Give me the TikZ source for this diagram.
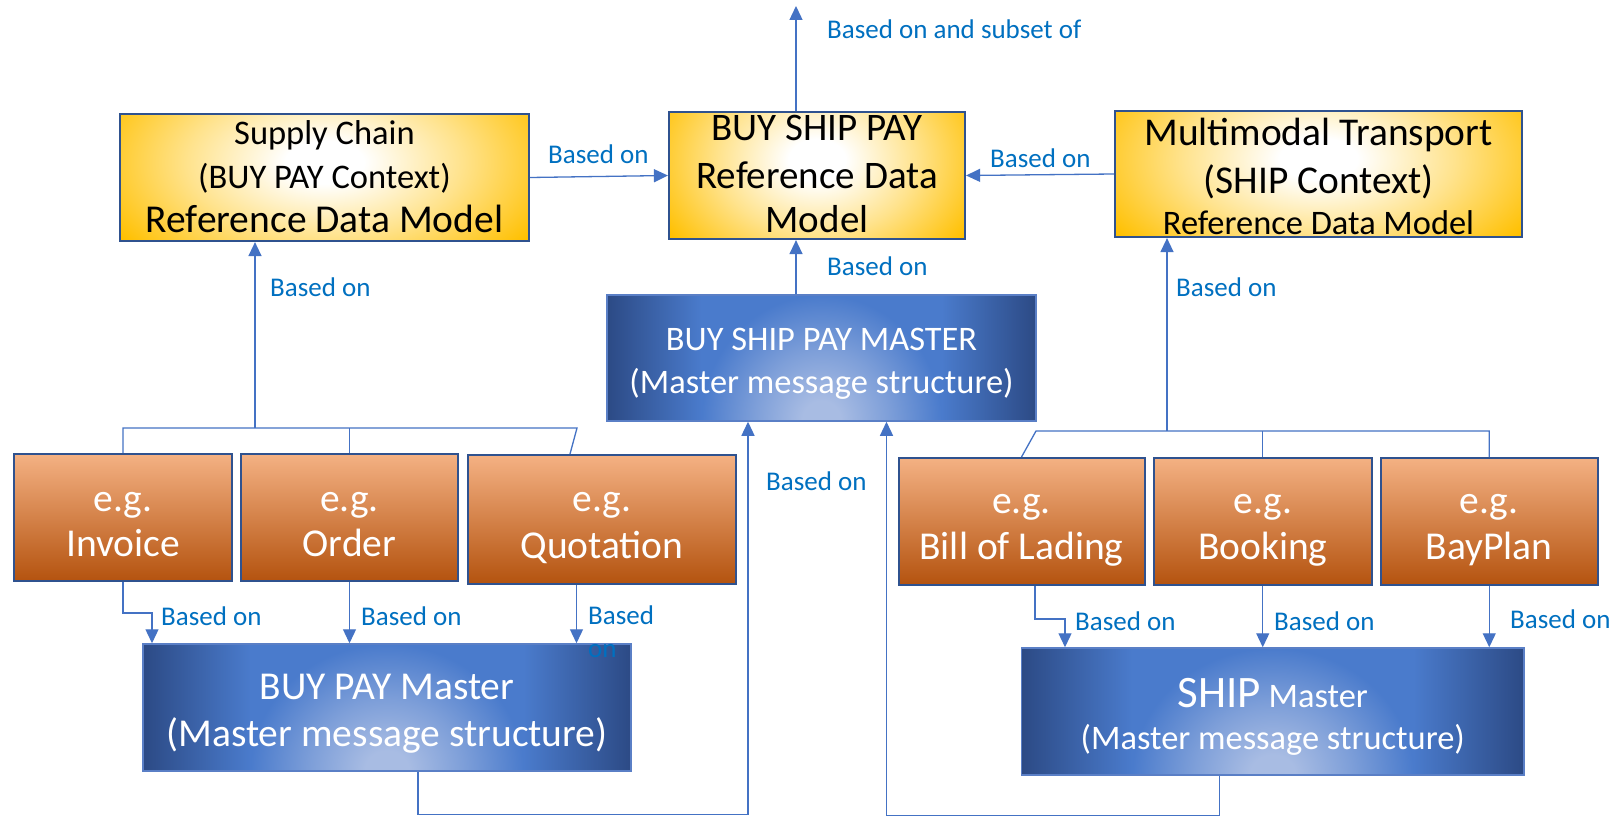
\documentclass[tikz,border=0pt]{standalone}
\usepackage{fontspec}
\setmainfont{Carlito}
\usetikzlibrary{arrows.meta}
\definecolor{goldc}{HTML}{FFC000}
\definecolor{bordc}{HTML}{2F528F}
\definecolor{bborder}{HTML}{5A7FC6}
\definecolor{linec}{HTML}{4472C4}
\definecolor{labc}{HTML}{0070C0}
\definecolor{otop}{HTML}{F4B183}
\definecolor{omid}{HTML}{ED7D31}
\definecolor{obot}{HTML}{B4530F}
\definecolor{bdark}{HTML}{2C4A85}
\definecolor{bmid}{HTML}{4A7BCC}
\definecolor{bspot}{HTML}{A8BCE3}
\colorlet{bspotmid}{bspot!55!bmid}
\colorlet{goldlight}{goldc!45!white}
\pgfdeclareradialshading{goldspotsh}{\pgfpointorigin}{color(0bp)=(white); color(4bp)=(white); color(14bp)=(goldlight); color(25bp)=(goldc); color(50bp)=(goldc)}
\pgfdeclareradialshading{bluespotsh}{\pgfpointorigin}{color(0bp)=(bspot); color(4bp)=(bspot); color(14bp)=(bspotmid); color(25bp)=(bmid); color(50bp)=(bmid)}
\pgfdeclarehorizontalshading{bluebgsh}{100bp}{color(0bp)=(bdark); color(25bp)=(bdark); color(36bp)=(bmid); color(64bp)=(bmid); color(75bp)=(bdark); color(100bp)=(bdark)}
\newcommand\fsz[1]{\fontsize{#1}{#1}\selectfont}
% #1 raise of first baseline above centre, #2 line spacing, #3 lines
\newcommand\boxtext[3]{\raisebox{#1}[0pt][0pt]{\fontsize{\fsize}{#2}\selectfont\begin{tabular}[t]{@{}c@{}}#3\end{tabular}}}
\def\fsize{10}
% backgrounds: centre x, centre y, width, height
\newcommand\goldbg[4]{%
  \begin{scope}
    \clip ({#1-#3/2},{#2-#4/2}) rectangle ({#1+#3/2},{#2+#4/2});
    \fill[goldc] ({#1-#3/2},{#2-#4/2}) rectangle ({#1+#3/2},{#2+#4/2});
    \shade[shading=goldspotsh] ({#1},{#2-0.12*#4}) ellipse [x radius={0.6*#3}, y radius={1.05*#4}];
  \end{scope}}
\newcommand\bluebg[4]{%
  \begin{scope}
    \clip ({#1-#3/2},{#2-#4/2}) rectangle ({#1+#3/2},{#2+#4/2});
    \shade[shading=bluebgsh] ({#1-#3/2},{#2-#4/2}) rectangle ({#1+#3/2},{#2+#4/2});
    \shade[shading=bluespotsh] ({#1},{#2+#4/2}) ellipse [x radius={0.28*#3}, y radius={1.0*#4}];
  \end{scope}}
\tikzset{
  box/.style={rectangle, inner sep=0pt},
  goldbox/.style={box, draw=bordc, line width=2.2pt, text=black},
  bluebox/.style={box, draw=bborder, line width=1.5pt, text=white},
  orbox/.style={box, draw=bordc, line width=2pt, top color=otop, middle color=omid, bottom color=obot, text=white,
    minimum height=127pt},
  lab/.style={text=labc, font=\fsz{27}, inner sep=0pt, anchor=west},
  conn/.style={draw=linec, line width=1.3pt},
  arr/.style={conn, -{Triangle[width=13pt,length=14pt]}}
}
\begin{document}
\begin{tikzpicture}[x=1pt,y=-1pt]
\useasboundingbox[fill=white] (0,0) rectangle (1617,818);
% box fills
\goldbg{324.5}{177.5}{409}{127}
\goldbg{817}{175.5}{296}{127}
\goldbg{1318.5}{174}{407}{126}
\bluebg{821.5}{358}{429}{126}
\bluebg{387}{707.5}{488}{127}
\bluebg{1272.75}{711.5}{502.5}{127}
% reference models
\node[goldbox, minimum width=409pt, minimum height=127pt] (sc) at (324.5,177.5)
  {\def\fsize{34.5}\boxtext{33pt}{44pt}{Supply Chain\\(BUY PAY Context)\\{\fsz{39.5}Reference Data Model}}};
\node[goldbox, minimum width=296pt, minimum height=127pt] (bsp) at (817,175.5)
  {\def\fsize{39}\boxtext{34.9pt}{48pt}{BUY SHIP PAY\\Reference Data\\[-4.5pt]Model}};
\node[goldbox, minimum width=407pt, minimum height=126pt] (mm) at (1318.5,174)
  {\def\fsize{39.4}\boxtext{28.3pt}{47.4pt}{Multimodal Transport\\(SHIP Context)\\[-5.5pt]{\fsz{34.4}Reference Data Model}}};
% masters
\node[bluebox, minimum width=429pt, minimum height=126pt] (bspm) at (821.5,358)
  {\def\fsize{34.4}\boxtext{7.9pt}{43.3pt}{BUY SHIP PAY MASTER\\(Master message structure)}};
\node[bluebox, minimum width=488pt, minimum height=127pt] (bpm) at (387,707.5)
  {\def\fsize{39.5}\boxtext{8.3pt}{47.4pt}{BUY PAY Master\\(Master message structure)}};
\node[bluebox, minimum width=502.5pt, minimum height=127pt] (shm) at (1272.75,711.5)
  {\def\fsize{34.4}\boxtext{4.5pt}{42.7pt}{{\fsz{45}SHIP} Master\\(Master message structure)}};
% messages
\node[orbox, minimum width=218pt] (inv) at (123,517.5) {\def\fsize{39.5}\boxtext{6.5pt}{45.3pt}{e.g.\\Invoice}};
\node[orbox, minimum width=217pt] (ord) at (349.5,517.5) {\def\fsize{39.5}\boxtext{6.5pt}{45.3pt}{e.g.\\Order}};
\node[orbox, minimum width=268pt, minimum height=129pt] (quo) at (602,519.5) {\def\fsize{39.5}\boxtext{7.9pt}{47pt}{e.g.\\Quotation}};
\node[orbox, minimum width=246pt] (bol) at (1021.5,521.5) {\def\fsize{39.5}\boxtext{8.4pt}{46pt}{e.g.\\Bill of Lading}};
\node[orbox, minimum width=217.5pt] (boo) at (1262.75,521.5) {\def\fsize{39.5}\boxtext{8.4pt}{46pt}{e.g.\\Booking}};
\node[orbox, minimum width=217.5pt] (bay) at (1489.25,521.5) {\def\fsize{39.5}\boxtext{8.4pt}{46pt}{e.g.\\BayPlan}};
% coordinates
\coordinate (topc) at (796,6);
\coordinate (busL) at (255,428);
\coordinate (busLe) at (577,428);
\coordinate (busR) at (1167,431);
\coordinate (busRw) at (1036,431);
\coordinate (busRe) at (1489.25,431);
% top connectors
\draw[arr] (bsp.north -| topc) -- (topc);
\draw[arr] (sc.east) -- (bsp.west);
\draw[arr] (mm.west) -- (bsp.east);
\draw[arr] (bspm.north -| topc) -- (bsp.south -| topc);
% left bus
\draw[arr] (busL) -- (busL |- sc.south);
\draw[conn] (inv.north) -- (inv.north |- busL) -- (busLe) -- ([xshift=-32pt]quo.north);
\draw[conn] (ord.north) -- (ord.north |- busL);
% right bus
\draw[arr] (busR) -- (busR |- mm.south);
\draw[conn] (bol.north) -- (busRw) -- (busRe) -- (bay.north);
\draw[conn] (boo.north) -- (boo.north |- busR);
% messages to masters
\draw[arr] (inv.south) -- ++(0,31) -| ([xshift=-235pt]bpm.north);
\draw[arr] (ord.south) -- (ord.south |- bpm.north);
\draw[arr] ([xshift=-25.5pt]quo.south) -- ([xshift=-25.5pt]quo.south |- bpm.north);
\draw[arr] ([xshift=13.5pt]bol.south) -- ++(0,33) -| ([xshift=-207.75pt]shm.north);
\draw[arr] (boo.south) -- (boo.south |- shm.north);
\draw[arr] (bay.south) -- (bay.south |- shm.north);
% masters to BSP master
\draw[arr] ([xshift=31pt]bpm.south) -- ++(0,43) -| ([xshift=-73.5pt]bspm.south);
\draw[arr] ([xshift=-53.25pt]shm.south) -- ++(0,40) -| ([xshift=65pt]bspm.south);
% labels
\node[lab] (l1) at (827,29) {Based on and subset of};
\node[lab] (l2) at (548,154) {Based on};
\node[lab] (l3) at (990,158) {Based on};
\node[lab] (l4) at (827,266) {Based on};
\node[lab] (l5) at (270,287) {Based on};
\node[lab] (l6) at (1176,287) {Based on};
\node[lab] (l7) at (766,481) {Based on};
\node[lab] (l8) at (161,616) {Based on};
\node[lab] (l9) at (361,616) {Based on};
\node[lab, align=left, font=\fontsize{27}{33}\selectfont] (l10) at (588,632) {Based\\on};
\node[lab] (l11) at (1075,621) {Based on};
\node[lab] (l12) at (1274,621) {Based on};
\node[lab] (l13) at (1510,619) {Based on};
\end{tikzpicture}
\end{document}
